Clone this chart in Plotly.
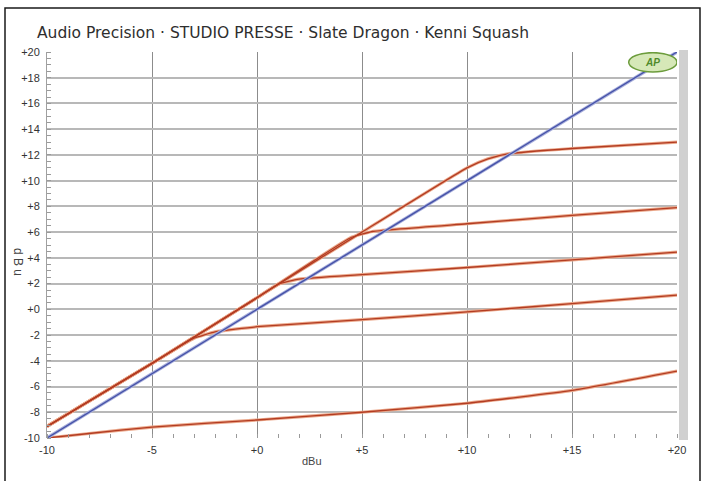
import plotly.graph_objects as go

# ---- data ----
ref_x = [-10, 20]
ref_y = [-10, 20]

curve_a_x = [-10, -5, 0, 5, 10, 11, 12, 15, 20]
curve_a_y = [-9.1, -4.2, 0.9, 6.0, 11.0, 11.7, 12.1, 12.5, 13.0]

curve_b_x = [-10, -5, 0, 4.5, 5.5, 10, 15, 20]
curve_b_y = [-9.1, -4.2, 0.9, 5.6, 6.05, 6.65, 7.3, 7.9]

curve_c_x = [-10, -5, 0, 1.0, 2.0, 5, 10, 15, 20]
curve_c_y = [-9.1, -4.2, 0.9, 1.95, 2.35, 2.7, 3.25, 3.85, 4.45]

curve_d_x = [-10, -5, -3, -2, 0, 5, 10, 15, 20]
curve_d_y = [-9.1, -4.2, -2.25, -1.75, -1.35, -0.8, -0.2, 0.45, 1.1]

curve_e_x = [-10, -8, -5, 0, 5, 10, 15, 20]
curve_e_y = [-10.0, -9.65, -9.15, -8.6, -8.0, -7.3, -6.3, -4.8]

x_tickvals = [-10, -5, 0, 5, 10, 15, 20]
x_ticktext = ["-10", "-5", "+0", "+5", "+10", "+15", "+20"]
y_tickvals = [20, 18, 16, 14, 12, 10, 8, 6, 4, 2, 0, -2, -4, -6, -8, -10]
y_ticktext = ["+20", "+18", "+16", "+14", "+12", "+10", "+8", "+6", "+4", "+2",
              "+0", "-2", "-4", "-6", "-8", "-10"]

title_text = "Audio Precision · STUDIO PRESSE · Slate Dragon · Kenni Squash"
x_title = "dBu"
y_title = "d B u"

# ---- figure ----
fig = go.Figure()

red_curves = [(curve_a_x, curve_a_y), (curve_b_x, curve_b_y), (curve_c_x, curve_c_y),
              (curve_d_x, curve_d_y), (curve_e_x, curve_e_y)]

for cx, cy in red_curves:
    fig.add_trace(go.Scatter(x=cx, y=cy, mode="lines",
                             line=dict(color="#eba98c", width=3.2, shape="spline", smoothing=0.4),
                             hoverinfo="skip", showlegend=False))
for cx, cy in red_curves:
    fig.add_trace(go.Scatter(x=cx, y=cy, mode="lines",
                             line=dict(color="#b33c22", width=1.3, shape="spline", smoothing=0.4),
                             showlegend=False))

fig.add_trace(go.Scatter(x=ref_x, y=ref_y, mode="lines", line=dict(color="#a9b0dc", width=3.2),
                         hoverinfo="skip", showlegend=False))
fig.add_trace(go.Scatter(x=ref_x, y=ref_y, mode="lines", line=dict(color="#4652a8", width=1.4),
                         showlegend=False))

W, H = 702, 481
ml, mr, mt, mb = 47, 25, 52, 43
pw, ph = W - ml - mr, H - mt - mb


def px(xp):
    return (xp - ml) / pw


def py(yp):
    return (H - mb - yp) / ph


FONT = "Liberation Sans, Arial, sans-serif"

shapes = [
    # outer frame
    dict(type="rect", xref="paper", yref="paper", x0=px(5), x1=px(700), y0=py(495), y1=py(8),
         line=dict(color="#1a1a1a", width=1.5), fillcolor="rgba(0,0,0,0)", layer="below"),
    # grey bar on the right side of the plot
    dict(type="rect", xref="paper", yref="paper", x0=px(679), x1=px(688), y0=py(440), y1=py(50),
         line=dict(width=0), fillcolor="#d0d0d0", layer="below"),
    # AP logo ellipse
    dict(type="circle", xref="x", yref="y", x0=17.7, x1=20.0, y0=18.45, y1=19.95,
         line=dict(color="#6c9c3c", width=1.5), fillcolor="#d6e8b8", layer="above"),
]

annotations = [
    dict(text=title_text, xref="paper", yref="paper", x=px(35), y=py(33), xanchor="left", yanchor="middle",
         showarrow=False, font=dict(family="DejaVu Sans, sans-serif", size=15.5, color="#2e2e2e")),
    dict(text=x_title, xref="paper", yref="paper", x=px(312), y=py(461), xanchor="center", yanchor="middle",
         showarrow=False, font=dict(family=FONT, size=11, color="#444")),
    dict(text=y_title, xref="paper", yref="paper", x=px(18), y=py(262), xanchor="center", yanchor="middle",
         textangle=90, showarrow=False, font=dict(family=FONT, size=12, color="#444")),
    dict(text="<b><i>AP</i></b>", xref="x", yref="y", x=18.85, y=19.2, xanchor="center", yanchor="middle",
         showarrow=False, font=dict(family=FONT, size=10, color="#4f8a2a")),
]

fig.update_layout(
    width=W, height=H,
    margin=dict(l=ml, r=mr, t=mt, b=mb, pad=0),
    paper_bgcolor="white", plot_bgcolor="white",
    showlegend=False,
    shapes=shapes, annotations=annotations,
    font=dict(family=FONT, size=11, color="#333"),
)

fig.update_xaxes(
    range=[-10, 20], tickvals=x_tickvals, ticktext=x_ticktext,
    showgrid=True, gridcolor="#8c8c8c", gridwidth=1.2, zeroline=False,
    showline=False, ticks="", ticklabelstandoff=4,
    minor=dict(dtick=1, ticks="inside", ticklen=4, tickcolor="#9a9a9a", showgrid=False),
    tickfont=dict(size=11, color="#333"),
)
fig.update_yaxes(
    range=[-10, 20], tickvals=y_tickvals, ticktext=y_ticktext,
    showgrid=True, gridcolor="#b8b8b8", gridwidth=2, zeroline=False,
    showline=True, linecolor="#a0a0a0", linewidth=1, ticks="", ticklabelstandoff=4,
    minor=dict(dtick=0.5, ticks="inside", ticklen=4, tickcolor="#9a9a9a", showgrid=False),
    tickfont=dict(size=11, color="#333"),
)

fig.write_html("out.html", config={"displayModeBar": False},
               post_script="document.body.style.margin='0';document.body.style.overflow='hidden';")
